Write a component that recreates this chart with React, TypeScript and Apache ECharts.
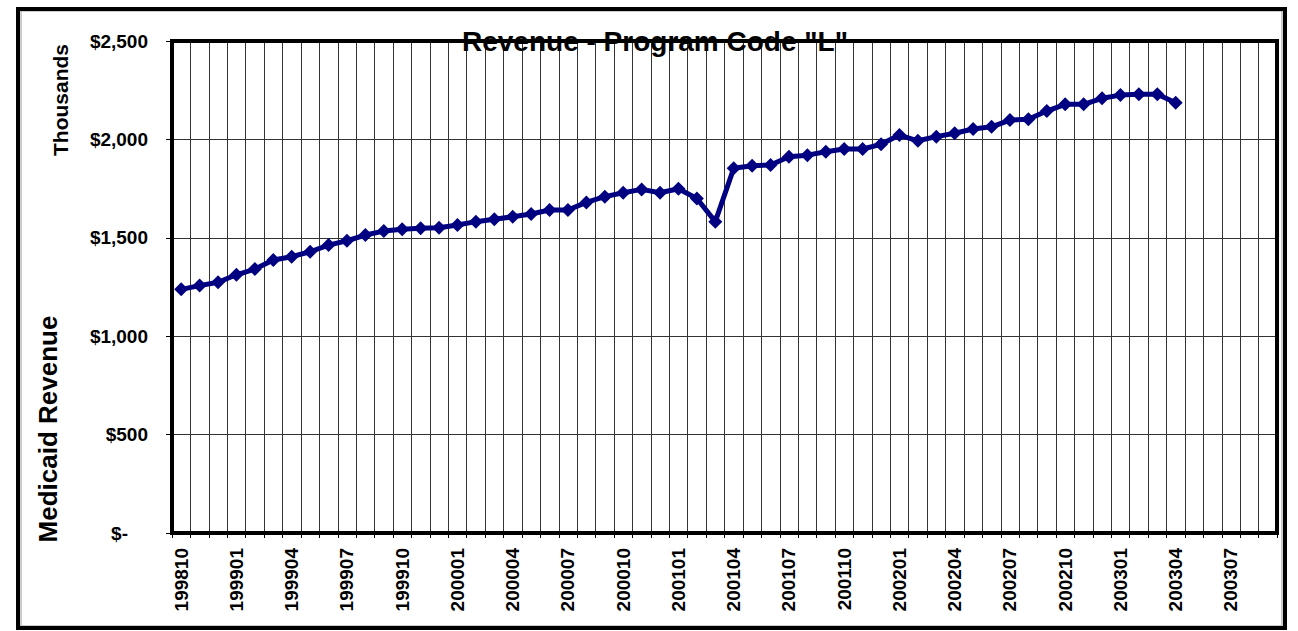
import React, { useEffect, useRef } from "react";
import * as echarts from "echarts";

const categories: string[] = (() => {
  const out: string[] = [];
  let y = 1998;
  let m = 10;
  for (let i = 0; i < 60; i++) {
    out.push(`${y}${m < 10 ? "0" + m : m}`);
    m++;
    if (m > 12) {
      m = 1;
      y++;
    }
  }
  return out;
})();

const revenue: number[] = [
  1238, 1257, 1274, 1312, 1341, 1387, 1404, 1429, 1463, 1485,
  1514, 1534, 1543, 1548, 1551, 1565, 1582, 1594, 1607, 1621,
  1641, 1641, 1680, 1709, 1729, 1746, 1729, 1749, 1700, 1582,
  1853, 1866, 1870, 1912, 1920, 1937, 1951, 1951, 1975, 2022,
  1993, 2014, 2031, 2053, 2064, 2098, 2102, 2144, 2178, 2178,
  2209, 2225, 2229, 2229, 2186,
];

const yTicks: number[] = [0, 500, 1000, 1500, 2000, 2500];

const FONT = '"Liberation Sans", Arial, sans-serif';

export default function App() {
  const ref = useRef<HTMLDivElement>(null);
  useEffect(() => {
    if (!ref.current) return;
    const chart = echarts.init(ref.current, null, { renderer: "svg" });
    chart.setOption({
      animation: false,
      backgroundColor: "#ffffff",
      title: {
        text: 'Revenue - Program Code "L"',
        left: 462,
        top: 27,
        padding: 0,
        textStyle: { fontFamily: FONT, fontSize: 28, fontWeight: "bold", color: "#000" },
        z: 10,
      },
      grid: {
        left: 172,
        top: 41,
        width: 1105,
        height: 492,
        show: true,
        borderColor: "#000",
        borderWidth: 4,
        backgroundColor: "transparent",
        z: 3,
      },
      graphic: [
        {
          type: "rect",
          shape: { x: 18, y: 9, width: 1267, height: 619 },
          style: { fill: "none", stroke: "#000", lineWidth: 4 },
          z: 100,
          silent: true,
        },
        {
          type: "rect",
          shape: { x: 21, y: 11, width: 1261, height: 615 },
          style: { fill: "none", stroke: "#999", lineWidth: 1 },
          z: 99,
          silent: true,
        },
        {
          type: "text",
          x: 48,
          y: 429,
          rotation: Math.PI / 2,
          style: {
            text: "Medicaid Revenue",
            font: `bold 26px ${FONT}`,
            fill: "#000",
            align: "center",
            verticalAlign: "middle",
          },
        },
        {
          type: "text",
          x: 60,
          y: 100,
          rotation: Math.PI / 2,
          style: {
            text: "Thousands",
            font: `bold 21px ${FONT}`,
            fill: "#000",
            align: "center",
            verticalAlign: "middle",
          },
        },
      ],
      xAxis: {
        type: "category",
        data: categories,
        boundaryGap: true,
        axisLine: { show: true, lineStyle: { color: "#000", width: 1 } },
        axisTick: { show: true, interval: 0, length: 5, lineStyle: { color: "#000", width: 1 } },
        axisLabel: {
          interval: 2,
          rotate: 90,
          margin: 15,
          fontFamily: FONT,
          fontSize: 19,
          fontWeight: "bold",
          color: "#000",
        },
        splitLine: { show: true, interval: 0, lineStyle: { color: "#333", width: 1 } },
      },
      yAxis: {
        type: "value",
        min: 0,
        max: 2500,
        interval: 500,
        axisLine: { show: false },
        axisTick: { show: true, length: 6, lineStyle: { color: "#000", width: 1 } },
        axisLabel: {
          margin: 24,
          fontFamily: FONT,
          fontSize: 19,
          fontWeight: "bold",
          color: "#000",
          formatter: (v: number) =>
            v === 0 ? "{z|$-}" : "$" + v.toLocaleString("en-US"),
          rich: {
            z: {
              fontFamily: FONT,
              fontSize: 19,
              fontWeight: "bold",
              color: "#000",
              padding: [0, 20, 0, 0],
            },
          },
        },
        splitLine: { show: true, lineStyle: { color: "#333", width: 1 } },
      },
      series: [
        {
          type: "line",
          data: revenue,
          symbol: "diamond",
          symbolSize: 14,
          showSymbol: true,
          showAllSymbol: true,
          lineStyle: { color: "#000080", width: 5 },
          itemStyle: { color: "#000080" },
          z: 5,
        },
      ],
    });
    return () => chart.dispose();
  }, []);
  return (
    <div
      ref={ref}
      style={{ position: "absolute", left: 0, top: 0, width: 1298, height: 631 }}
    />
  );
}
